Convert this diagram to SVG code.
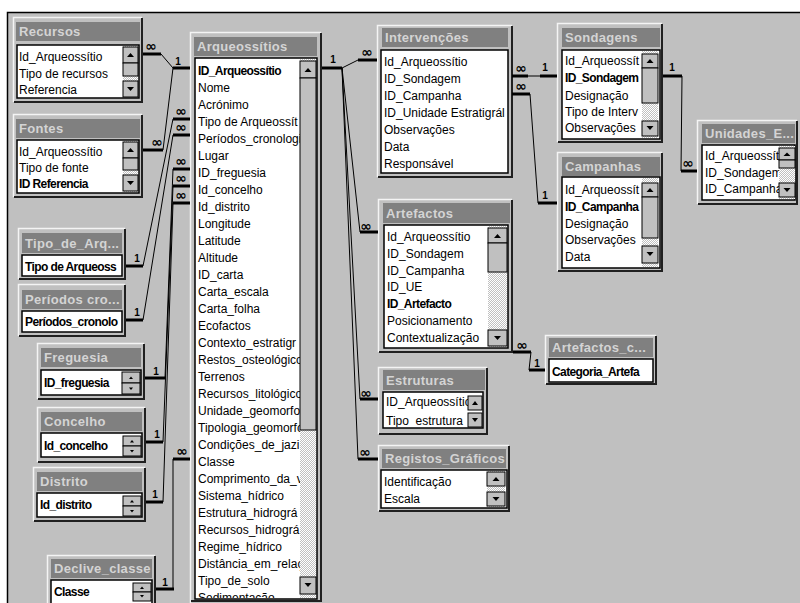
<svg xmlns="http://www.w3.org/2000/svg" width="800" height="603" viewBox="0 0 800 603">
<style>
.frm{fill:#c0c0c0}
.hl{fill:none;stroke:#f4f4f4;stroke-width:1.5}
.sd{fill:none;stroke:#202020;stroke-width:2}
.tb{fill:#808080}
.tt{font-family:"Liberation Sans",Arial,sans-serif;font-weight:bold;font-size:13px;fill:#d4d4d4;letter-spacing:0.3px}
.lb{fill:#fff;stroke:#000;stroke-width:1.5}
.it{font-family:"Liberation Sans",Arial,sans-serif;font-size:12px;fill:#000}
.b{font-weight:bold;letter-spacing:-0.6px}
.trk{fill:url(#dith)}
.btn{fill:#c0c0c0;stroke:#000;stroke-width:1}
.ar{fill:#000}
.ln{fill:none;stroke:#000;stroke-width:1}
.st{fill:none;stroke:#000;stroke-width:3}
.one{font-family:"Liberation Sans",Arial,sans-serif;font-weight:bold;font-size:10px;fill:#000;text-anchor:middle}
.inf{font-family:"DejaVu Sans",sans-serif;font-weight:bold;font-size:14px;fill:#000;text-anchor:middle}
</style>
<defs>
<pattern id="dith" width="2" height="2" patternUnits="userSpaceOnUse"><rect width="2" height="2" fill="#c0c0c0"/><rect width="1" height="1" fill="#fff"/><rect x="1" y="1" width="1" height="1" fill="#fff"/></pattern>
<clipPath id="cRec"><rect x="18" y="46" width="105" height="51"/></clipPath>
<clipPath id="cFon"><rect x="18" y="141" width="105" height="51"/></clipPath>
<clipPath id="cTip"><rect x="23" y="256" width="98" height="19"/></clipPath>
<clipPath id="cPer"><rect x="23" y="312" width="98" height="19"/></clipPath>
<clipPath id="cFre"><rect x="42" y="371" width="80" height="23"/></clipPath>
<clipPath id="cCon"><rect x="42" y="434" width="81" height="22"/></clipPath>
<clipPath id="cDis"><rect x="38" y="494" width="85" height="22"/></clipPath>
<clipPath id="cDec"><rect x="52" y="581" width="81" height="22"/></clipPath>
<clipPath id="cArq"><rect x="196" y="59" width="104" height="539"/></clipPath>
<clipPath id="cInt"><rect x="382" y="51" width="125" height="121"/></clipPath>
<clipPath id="cArt"><rect x="385" y="226" width="103" height="121"/></clipPath>
<clipPath id="cEst"><rect x="384" y="393" width="84" height="34"/></clipPath>
<clipPath id="cReg"><rect x="382" y="471" width="105" height="36"/></clipPath>
<clipPath id="cSon"><rect x="563" y="51" width="79" height="87"/></clipPath>
<clipPath id="cCam"><rect x="563" y="178" width="79" height="89"/></clipPath>
<clipPath id="cUni"><rect x="703" y="145" width="76" height="54"/></clipPath>
<clipPath id="cAc"><rect x="550" y="360" width="102" height="21"/></clipPath>
</defs>

<rect width="800" height="603" fill="#fff"/>
<rect x="7" y="12" width="793" height="591" fill="#c0c0c0"/>
<path d="M7.5,603V12.5H800" fill="none" stroke="#000" stroke-width="1.5"/>

<g id="t-recursos">
<rect class="frm" x="13" y="17" width="130" height="86"/>
<path class="hl" d="M13.5,102V17.5H142"/><path class="sd" d="M14,102H142V18"/>
<rect class="tb" x="16" y="22" width="124" height="19"/>
<text class="tt" x="19" y="36">Recursos</text>
<rect class="lb" x="17" y="45" width="122" height="53"/>
<g clip-path="url(#cRec)"><text class="it" x="19" y="61">Id_Arqueossítio</text><text class="it" x="19" y="78">Tipo de recursos</text><text class="it" x="19" y="94">Referencia</text></g>
<rect class="trk" x="123" y="46" width="15" height="51"/>
<rect class="btn" x="123" y="47" width="15" height="16"/><path class="ar" d="M127,57H134L130.5,53Z"/>
<rect class="btn" x="123" y="63" width="15" height="13"/>
<rect class="btn" x="123" y="81" width="15" height="16"/><path class="ar" d="M127,87H134L130.5,91Z"/>
</g>

<g id="t-fontes">
<rect class="frm" x="13" y="114" width="130" height="84"/>
<path class="hl" d="M13.5,197V114.5H142"/><path class="sd" d="M14,197H142V115"/>
<rect class="tb" x="16" y="119" width="124" height="19"/>
<text class="tt" x="19" y="133">Fontes</text>
<rect class="lb" x="17" y="140" width="122" height="53"/>
<g clip-path="url(#cFon)"><text class="it" x="19" y="156">Id_Arqueossítio</text><text class="it" x="19" y="172">Tipo de fonte</text><text class="it b" x="19" y="188">ID Referencia</text></g>
<rect class="trk" x="123" y="141" width="15" height="51"/>
<rect class="btn" x="123" y="142" width="15" height="16"/><path class="ar" d="M127,152H134L130.5,148Z"/>
<rect class="btn" x="123" y="158" width="15" height="12"/>
<rect class="btn" x="123" y="175" width="15" height="16"/><path class="ar" d="M127,181H134L130.5,185Z"/>
</g>

<g id="t-tipo">
<rect class="frm" x="18" y="228" width="108" height="52"/>
<path class="hl" d="M18.5,279V228.5H125"/><path class="sd" d="M19,279H125V229"/>
<rect class="tb" x="22" y="233" width="100" height="20"/>
<text class="tt" x="25" y="248">Tipo_de_Arq...</text>
<rect class="lb" x="22" y="255" width="100" height="21"/>
<g clip-path="url(#cTip)"><text class="it b" x="25" y="271">Tipo de Arqueoss</text></g>
</g>

<g id="t-periodos">
<rect class="frm" x="18" y="284" width="108" height="53"/>
<path class="hl" d="M18.5,336V284.5H125"/><path class="sd" d="M19,336H125V285"/>
<rect class="tb" x="22" y="290" width="100" height="19"/>
<text class="tt" x="25" y="304">Períodos cro...</text>
<rect class="lb" x="22" y="311" width="100" height="21"/>
<g clip-path="url(#cPer)"><text class="it b" x="25" y="326">Períodos_cronolo</text></g>
</g>

<g id="t-freguesia">
<rect class="frm" x="37" y="343" width="108" height="57"/>
<path class="hl" d="M37.5,399V343.5H144"/><path class="sd" d="M38,399H144V344"/>
<rect class="tb" x="41" y="348" width="100" height="19"/>
<text class="tt" x="44" y="362">Freguesia</text>
<rect class="lb" x="41" y="370" width="100" height="25"/>
<g clip-path="url(#cFre)"><text class="it b" x="44" y="387">ID_freguesia</text></g>
<rect class="btn" x="122" y="372" width="18" height="11"/><path class="ar" d="M129,379H133L131,376.5Z"/>
<rect class="btn" x="122" y="383" width="18" height="11"/><path class="ar" d="M129,387.5H133L131,390Z"/>
</g>

<g id="t-concelho">
<rect class="frm" x="37" y="407" width="109" height="56"/>
<path class="hl" d="M37.5,462V407.5H145"/><path class="sd" d="M38,462H145V408"/>
<rect class="tb" x="41" y="412" width="101" height="19"/>
<text class="tt" x="44" y="426">Concelho</text>
<rect class="lb" x="41" y="433" width="101" height="24"/>
<g clip-path="url(#cCon)"><text class="it b" x="44" y="450">Id_concelho</text></g>
<rect class="btn" x="123" y="436" width="18" height="10"/><path class="ar" d="M130,442.5H134L132,440Z"/>
<rect class="btn" x="123" y="446" width="18" height="10"/><path class="ar" d="M130,450H134L132,452.5Z"/>
</g>

<g id="t-distrito">
<rect class="frm" x="33" y="467" width="113" height="55"/>
<path class="hl" d="M33.5,521V467.5H145"/><path class="sd" d="M34,521H145V468"/>
<rect class="tb" x="37" y="472" width="105" height="19"/>
<text class="tt" x="40" y="486">Distrito</text>
<rect class="lb" x="37" y="493" width="105" height="24"/>
<g clip-path="url(#cDis)"><text class="it b" x="40" y="509">Id_distrito</text></g>
<rect class="btn" x="123" y="496" width="18" height="10"/><path class="ar" d="M130,502.5H134L132,500Z"/>
<rect class="btn" x="123" y="506" width="18" height="10"/><path class="ar" d="M130,510H134L132,512.5Z"/>
</g>

<g id="t-declive">
<rect class="frm" x="47" y="555" width="109" height="60"/>
<path class="hl" d="M47.5,615V555.5H155"/><path class="sd" d="M48,615H155V556"/>
<rect class="tb" x="51" y="559" width="101" height="19"/>
<text class="tt" x="54" y="573">Declive_classe</text>
<rect class="lb" x="51" y="580" width="101" height="24"/>
<g clip-path="url(#cDec)"><text class="it b" x="54" y="596">Classe</text></g>
<rect class="btn" x="133" y="583" width="18" height="9"/><path class="ar" d="M140,589H144L142,586.5Z"/>
<rect class="btn" x="133" y="592" width="18" height="9"/><path class="ar" d="M140,595H144L142,597.5Z"/>
</g>

<g id="t-arqueossitios">
<rect class="frm" x="190" y="32" width="132" height="575"/>
<path class="hl" d="M190.5,606V32.5H321"/><path class="sd" d="M191,601H321V33"/>
<rect class="tb" x="194" y="37" width="123" height="19"/>
<text class="tt" x="197" y="51">Arqueossítios</text>
<rect class="lb" x="195" y="58" width="122" height="541"/>
<g clip-path="url(#cArq)">
<text class="it b" x="198" y="75">ID_Arqueossítio</text>
<text class="it" x="198" y="92">Nome</text>
<text class="it" x="198" y="109">Acrónimo</text>
<text class="it" x="198" y="126">Tipo de Arqueossít</text>
<text class="it" x="198" y="143">Períodos_cronologi</text>
<text class="it" x="198" y="160">Lugar</text>
<text class="it" x="198" y="177">ID_freguesia</text>
<text class="it" x="198" y="194">Id_concelho</text>
<text class="it" x="198" y="211">Id_distrito</text>
<text class="it" x="198" y="228">Longitude</text>
<text class="it" x="198" y="245">Latitude</text>
<text class="it" x="198" y="262">Altitude</text>
<text class="it" x="198" y="279">ID_carta</text>
<text class="it" x="198" y="296">Carta_escala</text>
<text class="it" x="198" y="313">Carta_folha</text>
<text class="it" x="198" y="330">Ecofactos</text>
<text class="it" x="198" y="347">Contexto_estratigr</text>
<text class="it" x="198" y="364">Restos_osteológico</text>
<text class="it" x="198" y="381">Terrenos</text>
<text class="it" x="198" y="398">Recursos_litológico</text>
<text class="it" x="198" y="415">Unidade_geomorfo</text>
<text class="it" x="198" y="432">Tipologia_geomorfo</text>
<text class="it" x="198" y="449">Condições_de_jazi</text>
<text class="it" x="198" y="466">Classe</text>
<text class="it" x="198" y="483">Comprimento_da_v</text>
<text class="it" x="198" y="500">Sistema_hídrico</text>
<text class="it" x="198" y="517">Estrutura_hidrográ</text>
<text class="it" x="198" y="534">Recursos_hidrográ</text>
<text class="it" x="198" y="551">Regime_hídrico</text>
<text class="it" x="198" y="568">Distância_em_relaç</text>
<text class="it" x="198" y="585">Tipo_de_solo</text>
<text class="it" x="198" y="602">Sedimentação</text>
</g>
<rect class="trk" x="300" y="59" width="16" height="539"/>
<rect class="btn" x="300" y="61" width="16" height="17"/><path class="ar" d="M304.5,72H311.5L308,68Z"/>
<rect class="btn" x="300" y="78" width="16" height="352"/>
<rect class="btn" x="300" y="577" width="16" height="17"/><path class="ar" d="M304.5,583H311.5L308,587Z"/>
</g>

<g id="t-intervencoes">
<rect class="frm" x="377" y="25" width="136" height="153"/>
<path class="hl" d="M377.5,177V25.5H512"/><path class="sd" d="M378,177H512V26"/>
<rect class="tb" x="382" y="28" width="126" height="19"/>
<text class="tt" x="385" y="42">Intervenções</text>
<rect class="lb" x="381" y="50" width="127" height="123"/>
<g clip-path="url(#cInt)">
<text class="it" x="384" y="66">Id_Arqueossítio</text>
<text class="it" x="384" y="83">ID_Sondagem</text>
<text class="it" x="384" y="100">ID_Campanha</text>
<text class="it" x="384" y="117">ID_Unidade Estratigrál</text>
<text class="it" x="384" y="134">Observações</text>
<text class="it" x="384" y="151">Data</text>
<text class="it" x="384" y="168">Responsável</text>
</g>
</g>

<g id="t-artefactos">
<rect class="frm" x="378" y="199" width="135" height="154"/>
<path class="hl" d="M378.5,352V199.5H512"/><path class="sd" d="M379,352H512V200"/>
<rect class="tb" x="383" y="203" width="127" height="20"/>
<text class="tt" x="386" y="218">Artefactos</text>
<rect class="lb" x="384" y="225" width="124" height="123"/>
<g clip-path="url(#cArt)">
<text class="it" x="387" y="241">Id_Arqueossítio</text>
<text class="it" x="387" y="258">ID_Sondagem</text>
<text class="it" x="387" y="275">ID_Campanha</text>
<text class="it" x="387" y="291">ID_UE</text>
<text class="it b" x="387" y="308">ID_Artefacto</text>
<text class="it" x="387" y="325">Posicionamento</text>
<text class="it" x="387" y="342">Contextualização</text>
</g>
<rect class="trk" x="488" y="226" width="19" height="121"/>
<rect class="btn" x="488" y="228" width="19" height="15"/><path class="ar" d="M494,238H501L497.5,234Z"/>
<rect class="btn" x="488" y="243" width="19" height="29"/>
<rect class="btn" x="488" y="330" width="19" height="16"/><path class="ar" d="M494,336H501L497.5,340Z"/>
</g>

<g id="t-estruturas">
<rect class="frm" x="378" y="367" width="110" height="68"/>
<path class="hl" d="M378.5,434V367.5H487"/><path class="sd" d="M379,434H487V368"/>
<rect class="tb" x="383" y="370" width="102" height="20"/>
<text class="tt" x="386" y="385">Estruturas</text>
<rect class="lb" x="383" y="392" width="100" height="36"/>
<g clip-path="url(#cEst)"><text class="it" x="386" y="406">ID_Arqueossítio</text><text class="it" x="386" y="425">Tipo_estrutura</text></g>
<rect class="btn" x="468" y="396" width="14" height="14"/><path class="ar" d="M472,405H478L475,401Z"/>
<rect class="btn" x="468" y="413" width="14" height="14"/><path class="ar" d="M472,418H478L475,422Z"/>
</g>

<g id="t-registos">
<rect class="frm" x="378" y="445" width="132" height="67"/>
<path class="hl" d="M378.5,511V445.5H509"/><path class="sd" d="M379,511H509V446"/>
<rect class="tb" x="382" y="449" width="124" height="19"/>
<text class="tt" x="385" y="463">Registos_Gráficos</text>
<rect class="lb" x="381" y="470" width="126" height="38"/>
<g clip-path="url(#cReg)"><text class="it" x="384" y="486">Identificação</text><text class="it" x="384" y="503">Escala</text></g>
<rect class="trk" x="487" y="471" width="18" height="36"/>
<rect class="btn" x="487" y="472" width="18" height="14"/><path class="ar" d="M492.5,481H499.5L496,477Z"/>
<rect class="btn" x="487" y="492" width="18" height="14"/><path class="ar" d="M492.5,497H499.5L496,501Z"/>
</g>

<g id="t-sondagens">
<rect class="frm" x="557" y="23" width="106" height="120"/>
<path class="hl" d="M557.5,142V23.5H662"/><path class="sd" d="M558,142H662V24"/>
<rect class="tb" x="562" y="28" width="98" height="19"/>
<text class="tt" x="565" y="42">Sondagens</text>
<rect class="lb" x="562" y="50" width="98" height="89"/>
<g clip-path="url(#cSon)">
<text class="it" x="565" y="65">Id_Arqueossít</text>
<text class="it b" x="565" y="82">ID_Sondagem</text>
<text class="it" x="565" y="100">Designação</text>
<text class="it" x="565" y="116">Tipo de Interv</text>
<text class="it" x="565" y="132">Observações</text>
</g>
<rect class="trk" x="642" y="51" width="16" height="87"/>
<rect class="btn" x="642" y="54" width="16" height="14"/><path class="ar" d="M646.5,63H653.5L650,59Z"/>
<rect class="btn" x="642" y="68" width="16" height="35"/>
<rect class="btn" x="642" y="121" width="16" height="15"/><path class="ar" d="M646.5,126H653.5L650,130Z"/>
</g>

<g id="t-campanhas">
<rect class="frm" x="557" y="152" width="106" height="120"/>
<path class="hl" d="M557.5,271V152.5H662"/><path class="sd" d="M558,271H662V153"/>
<rect class="tb" x="562" y="157" width="98" height="19"/>
<text class="tt" x="565" y="171">Campanhas</text>
<rect class="lb" x="562" y="177" width="98" height="91"/>
<g clip-path="url(#cCam)">
<text class="it" x="565" y="194">Id_Arqueossít</text>
<text class="it b" x="565" y="211">ID_Campanha</text>
<text class="it" x="565" y="228">Designação</text>
<text class="it" x="565" y="244">Observações</text>
<text class="it" x="565" y="261">Data</text>
</g>
<rect class="trk" x="642" y="178" width="16" height="89"/>
<rect class="btn" x="642" y="183" width="16" height="14"/><path class="ar" d="M646.5,192H653.5L650,188Z"/>
<rect class="btn" x="642" y="197" width="16" height="41"/>
<rect class="btn" x="642" y="246" width="16" height="17"/><path class="ar" d="M646.5,252H653.5L650,256Z"/>
</g>

<g id="t-unidades">
<rect class="frm" x="697" y="120" width="101" height="85"/>
<path class="hl" d="M697.5,204V120.5H797"/><path class="sd" d="M698,204H797V121"/>
<rect class="tb" x="702" y="124" width="93" height="19"/>
<text class="tt" x="705" y="138">Unidades_E...</text>
<rect class="lb" x="702" y="145" width="93" height="55"/>
<g clip-path="url(#cUni)">
<text class="it" x="705" y="160">Id_Arqueossít</text>
<text class="it" x="705" y="177">ID_Sondagem</text>
<text class="it" x="705" y="193">ID_Campanha</text>
</g>
<rect class="trk" x="779" y="146" width="16" height="53"/>
<rect class="btn" x="779" y="148" width="16" height="12"/><path class="ar" d="M783.5,156H790.5L787,152.5Z"/>
<rect class="btn" x="779" y="160" width="16" height="8"/>
<rect class="btn" x="779" y="183" width="16" height="14"/><path class="ar" d="M783.5,188H790.5L787,192Z"/>
</g>

<g id="t-artefactos-c">
<rect class="frm" x="545" y="335" width="112" height="50"/>
<path class="hl" d="M545.5,384V335.5H656"/><path class="sd" d="M546,384H656V336"/>
<rect class="tb" x="549" y="338" width="104" height="19"/>
<text class="tt" x="552" y="352">Artefactos_c...</text>
<rect class="lb" x="549" y="359" width="104" height="23"/>
<g clip-path="url(#cAc)"><text class="it b" x="552" y="376">Categoria_Artefa</text></g>
</g>

<g id="connectors">
<path class="ln" d="M161,54L173,68M163,150L173,68M143,266L173,119M143,320L173,135M165,378L173,169M163,442L173,186M163,502L173,203M173,589L173,459M342,68L358,60M342,68L360,232M342,68L360,399M342,68L358,459M528,76L540,76M530,94L538,203M682,76L681,171M531,352L529,370"/>
<path class="st" d="M143,54H161M173,68H190M143,150H163M173,119H190M126,266H143M173,135H190M126,320H143M145,378H165M173,169H190M146,442H163M173,186H190M146,502H163M173,203H190M156,589H174M173,459H190M322,68H342M358,60H377M360,232H378M360,399H378M358,459H378M512,76H528M540,76H557M512,94H530M538,203H557M663,76H682M681,171H697M513,352H531M529,370H545"/>
<text class="inf" x="151" y="51">∞</text>
<text class="inf" x="157" y="147">∞</text>
<text class="inf" x="181" y="116">∞</text>
<text class="inf" x="181" y="132">∞</text>
<text class="inf" x="181" y="166">∞</text>
<text class="inf" x="181" y="183">∞</text>
<text class="inf" x="181" y="200">∞</text>
<text class="inf" x="182" y="456">∞</text>
<text class="inf" x="367" y="57">∞</text>
<text class="inf" x="366" y="231">∞</text>
<text class="inf" x="366" y="398">∞</text>
<text class="inf" x="365" y="457">∞</text>
<text class="inf" x="521" y="73">∞</text>
<text class="inf" x="521" y="91">∞</text>
<text class="inf" x="688" y="168">∞</text>
<text class="inf" x="522" y="350">∞</text>
<text class="one" x="178" y="65">1</text>
<text class="one" x="137" y="262">1</text>
<text class="one" x="137" y="316">1</text>
<text class="one" x="156" y="375">1</text>
<text class="one" x="157" y="438">1</text>
<text class="one" x="155" y="498">1</text>
<text class="one" x="165" y="586">1</text>
<text class="one" x="333" y="63">1</text>
<text class="one" x="545" y="71">1</text>
<text class="one" x="545" y="199">1</text>
<text class="one" x="672" y="71">1</text>
<text class="one" x="537" y="367">1</text>
</g>
</svg>
